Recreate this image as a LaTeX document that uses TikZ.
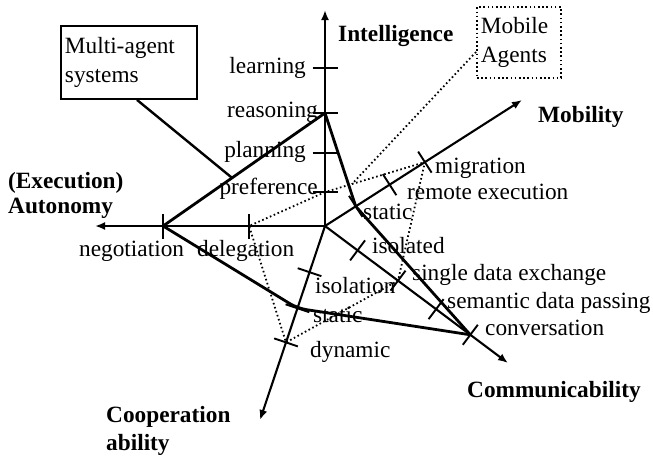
\documentclass[tikz,border=0pt]{standalone}
\usepackage{fontspec}
\setmainfont{Liberation Serif}
\usetikzlibrary{calc,arrows.meta}

% perpendicular tick across an axis: #1 = point on the axis, #2 = axis end
\newcommand\axtick[2]{\draw[tickline] ($(#1)!12.5pt!90:(#2)$) -- ($(#1)!12.5pt!-90:(#2)$);}

\begin{document}
\begin{tikzpicture}[x=1pt,y=-1pt,
  every node/.style={font=\fontsize{23.3}{29}\selectfont, inner sep=0pt},
  axisline/.style={line width=2.1pt, -{Latex[length=10pt,width=8pt]}},
  tickline/.style={line width=1.9pt},
  agentpoly/.style={line width=2.8pt, line join=round},
  mobilepoly/.style={line width=1.8pt, dash pattern=on 1.6pt off 2.6pt},
  axislabel/.style={font=\fontsize{23.3}{29}\selectfont\bfseries, align=left}
]
\useasboundingbox (0,0) rectangle (653,456);

% axes
\coordinate (O) at (325,226);
\coordinate (Iend) at (325,10);
\coordinate (Aend) at (95,226);
\coordinate (Mend) at (522,100);
\coordinate (Cend) at (508,363);
\coordinate (Kend) at (260,420);

\draw[axisline] (O) -- (Iend);
\draw[axisline] (O) -- (Aend);
\draw[axisline] (O) -- (Mend);
\draw[axisline] (O) -- (Cend);
\draw[axisline] (O) -- (Kend);

% scale points on each axis
\coordinate (learn) at ($(O)!0.731!(Iend)$);
\coordinate (reas)  at ($(O)!0.523!(Iend)$);
\coordinate (plan)  at ($(O)!0.338!(Iend)$);
\coordinate (pref)  at ($(O)!0.157!(Iend)$);

\coordinate (nego)  at ($(O)!0.704!(Aend)$);
\coordinate (dele)  at ($(O)!0.330!(Aend)$);

\coordinate (mstat) at ($(O)!0.156!(Mend)$);
\coordinate (remo)  at ($(O)!0.328!(Mend)$);
\coordinate (migr)  at ($(O)!0.507!(Mend)$);

\coordinate (isod)  at ($(O)!0.178!(Cend)$);
\coordinate (sing)  at ($(O)!0.399!(Cend)$);
\coordinate (sema)  at ($(O)!0.607!(Cend)$);
\coordinate (conv)  at ($(O)!0.794!(Cend)$);

\coordinate (isol)  at ($(O)!0.238!(Kend)$);
\coordinate (kstat) at ($(O)!0.424!(Kend)$);
\coordinate (dyna)  at ($(O)!0.600!(Kend)$);

% ticks
\axtick{learn}{Iend}
\axtick{reas}{Iend}
\axtick{plan}{Iend}
\axtick{pref}{Iend}
\axtick{nego}{Aend}
\axtick{dele}{Aend}
\axtick{mstat}{Mend}
\axtick{remo}{Mend}
\axtick{migr}{Mend}
\axtick{isod}{Cend}
\axtick{sing}{Cend}
\axtick{sema}{Cend}
\axtick{conv}{Cend}
\axtick{isol}{Kend}
\axtick{kstat}{Kend}
\axtick{dyna}{Kend}

% axis names
\node[axislabel, anchor=base west] (intel) at (338,41) {Intelligence};
\node[axislabel, anchor=base west] (mobil) at (538,122) {Mobility};
\node[axislabel, anchor=base west] (exec) at (8,188) {(Execution)};
\node[axislabel, anchor=base west] (auto) at (8,213) {Autonomy};
\node[axislabel, anchor=base west] (coop) at (106,422) {Cooperation};
\node[axislabel, anchor=base west] (abil) at (106,450) {ability};
\node[axislabel, anchor=base west] (commu) at (467,397) {Communicability};

% scale values
\node[anchor=mid east] (tlearn) at (306,71) {learning};
\node[anchor=mid east] (treas)  at (318,115) {reasoning};
\node[anchor=mid east] (tplan)  at (306,155) {planning};
\node[anchor=mid east] (tpref)  at (318,192) {preference};
\node[anchor=mid west] (tnego)  at (79,254) {negotiation};
\node[anchor=mid west] (tdele)  at (197,254) {delegation};
\node[anchor=mid west] (tisol)  at (315,291) {isolation};
\node[anchor=mid west] (tkstat) at (313,320) {static};
\node[anchor=mid west] (tdyna)  at (310,355) {dynamic};
\node[anchor=mid west] (tmstat) at (363,217) {static};
\node[anchor=mid west] (tremo)  at (407,197) {remote execution};
\node[anchor=mid west] (tmigr)  at (435,171) {migration};
\node[anchor=mid west] (tisod)  at (372,251) {isolated};
\node[anchor=mid west] (tsing)  at (412,278) {single data exchange};
\node[anchor=mid west] (tsema)  at (447,306) {semantic data passing};
\node[anchor=mid west] (tconv)  at (485,333) {conversation};

% multi-agent systems profile
\draw[agentpoly] (reas) -- (mstat) -- (conv) [rounded corners=9pt] -- (kstat) [sharp corners] -- (nego) -- cycle;

% mobile agents profile
\draw[mobilepoly] (pref) -- (dele) -- (dyna) -- (sing) -- (migr) -- cycle;

% legend boxes
\node[draw, line width=1.9pt, anchor=north west, minimum width=135pt, minimum height=73pt,
      text width=128pt, align=left, inner xsep=4pt] (mas) at (60,25) {Multi-agent\\systems};
\node[draw, mobilepoly, anchor=north west, minimum width=83pt, minimum height=71pt,
      text width=76pt, align=left, inner xsep=4pt] (ma) at (476,6) {Mobile\\Agents};

\coordinate (masfoot) at ($(mas.south west)+(77,0)$);
\coordinate (masjoin) at ($(nego)!0.426!(reas)$);
\draw[line width=2.4pt] (masfoot) -- (masjoin);

\coordinate (mafoot) at ($(ma.north west)+(0,46)$);
\coordinate (majoin) at ($(pref)!0.27!(migr)$);
\draw[mobilepoly] (mafoot) -- (majoin);
\end{tikzpicture}
\end{document}
